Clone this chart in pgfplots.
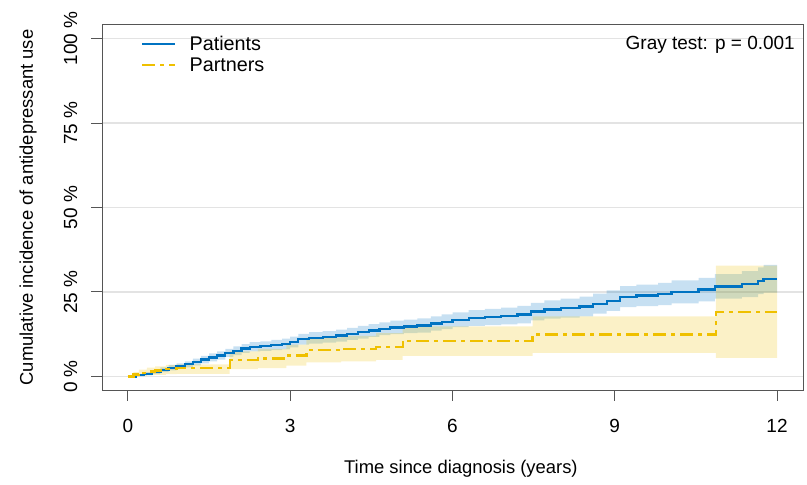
\documentclass[border=0pt]{standalone}
\usepackage{fontspec}
\setmainfont{Liberation Sans}
\usepackage{pgfplots}
\pgfplotsset{compat=1.18}
\usepgfplotslibrary{fillbetween}
\usepackage{pgfplotstable}

\definecolor{patblue}{HTML}{0073C2}
\definecolor{paryel}{HTML}{EFC000}
\definecolor{gridgray}{HTML}{E3E3E3}
\definecolor{axgray}{HTML}{555555}

% cumulative incidence (%) with 95% band, patients
\pgfplotstableread{
t     est   lo    hi
0     0     0     0
0.15  0.4   0.1   0.7
0.3   0.8   0.3   1.3
0.45  1.3   0.7   1.9
0.6   2.0   1.3   2.7
0.75  2.6   1.8   3.4
0.9   3.1   2.3   3.9
1.05  3.6   2.7   4.5
1.2   4.3   3.3   5.3
1.35  5.0   3.9   6.1
1.5   5.6   4.5   6.8
1.65  6.2   5.0   7.4
1.8   7.0   5.8   8.2
1.95  7.6   6.3   8.9
2.1   8.3   7.0   9.6
2.25  8.8   7.4   10.2
2.45  9.0   7.6   10.4
2.65  9.3   7.8   10.8
2.85  9.6   8.0   11.2
3.0   10.2  8.6   11.8
3.15  11.0  9.4   12.6
3.35  11.4  9.7   13.1
3.6   11.7  10.0  13.4
3.85  12.1  10.3  13.9
4.05  12.6  10.8  14.4
4.25  13.1  11.2  15.0
4.45  13.6  11.7  15.5
4.65  14.1  12.2  16.0
4.85  14.5  12.5  16.5
5.1   14.8  12.8  16.8
5.35  15.1  13.0  17.2
5.6   15.7  13.6  17.8
5.8   16.2  14.0  18.4
6.0   16.8  14.6  19.0
6.3   17.3  15.0  19.6
6.6   17.6  15.2  20.0
6.9   17.9  15.4  20.4
7.2   18.3  15.7  20.9
7.45  19.2  16.6  21.8
7.7   19.8  17.1  22.5
8.0   20.2  17.4  23.0
8.35  20.7  17.8  23.6
8.6   21.5  18.6  24.5
8.85  22.4  19.4  25.5
9.1   23.6  20.5  26.7
9.4   24.0  20.8  27.2
9.8   24.4  21.1  27.7
10.05 25.0  21.6  28.4
10.55 25.7  22.2  29.2
10.85 26.6  23.0  30.3
11.35 27.3  23.5  31.2
11.65 28.3  24.4  32.3
11.75 28.9  24.8  33.0
12.0  28.9  24.8  33.0
}\patients

% partners
\pgfplotstableread{
t     est   lo    hi
0     0     0     0
0.1   0.6   0.0   1.3
0.2   1.1   0.2   2.0
0.35  1.5   0.4   2.6
0.5   1.8   0.5   3.0
0.7   2.2   0.7   3.4
0.9   2.6   0.8   3.6
1.88  4.8   2.2   7.4
2.4   5.3   2.5   8.2
2.93  6.2   3.2   9.4
3.3   7.8   4.2   11.5
3.94  8.2   4.5   12.0
4.59  8.8   4.9   12.8
5.08  10.6  6.1   14.8
7.48  12.4  7.0   17.8
10.87 19.1  5.5   32.8
12.0  19.1  5.5   32.8
}\partners

\begin{document}
\begin{tikzpicture}
\begin{axis}[
  scale only axis, width=701pt, height=365pt,
  font=\fontsize{19}{22}\selectfont,
  xmin=-0.48, xmax=12.48, ymin=-4, ymax=104,
  xtick={0,3,6,9,12}, xticklabels={0,3,6,9,12},
  ytick={0,25,50,75,100},
  yticklabels={0 \%,25 \%,50 \%,75 \%,100 \%},
  tick align=outside, tick pos=left, major tick length=11pt,
  axis line style={axgray, line width=1pt},
  every tick/.style={axgray, line width=1pt},
  ymajorgrids, major grid style={gridgray, line width=1.5pt},
  xticklabel style={anchor=base, yshift=-31pt},
  yticklabel style={xshift=-14pt, rotate=90, anchor=base},
  xlabel={Time since diagnosis (years)},
  ylabel={Cumulative incidence of antidepressant use},
  xlabel style={at={(axis description cs:0.512,-0.2288)}, anchor=base,
    font=\fontsize{18.4}{22}\selectfont},
  ylabel style={at={(axis description cs:-0.0985,0.5)}, anchor=base,
    font=\fontsize{18.4}{22}\selectfont},
  legend style={draw=none, fill=none, at={(axis description cs:0.0557,0.976)},
    anchor=north west, inner sep=0pt, row sep=1.7pt, column sep=11pt,
    font=\fontsize{19.8}{22}\selectfont},
  legend image code/.code={\draw[#1] (0pt,0pt) -- (33pt,0pt);},
  legend cell align=left,
]
\addplot[const plot, draw=none, forget plot, name path=pahi] table[x=t,y=hi]{\patients};
\addplot[const plot, draw=none, forget plot, name path=palo] table[x=t,y=lo]{\patients};
\addplot[patblue, fill opacity=0.22, draw=none, forget plot] fill between[of=pahi and palo];
\addplot[const plot, draw=none, forget plot, name path=prhi] table[x=t,y=hi]{\partners};
\addplot[const plot, draw=none, forget plot, name path=prlo] table[x=t,y=lo]{\partners};
\addplot[paryel, fill opacity=0.22, draw=none, forget plot] fill between[of=prhi and prlo];

\addplot[const plot, patblue, line width=2.3pt] table[x=t,y=est]{\patients};
\addlegendentry{Patients}
\addplot[const plot, paryel, line width=2.3pt,
  dash pattern=on 13pt off 5pt on 4pt off 5pt] table[x=t,y=est]{\partners};
\addlegendentry{Partners}

\node[anchor=base east, inner sep=0pt] at (axis description cs:0.9886,0.9315)
  {Gray test: p = 0.001};
\end{axis}
\pgfresetboundingbox
\useasboundingbox ([xshift=-102pt,yshift=-94pt]current axis.south west)
  rectangle ([xshift=4pt,yshift=25pt]current axis.north east);
\end{tikzpicture}
\end{document}
